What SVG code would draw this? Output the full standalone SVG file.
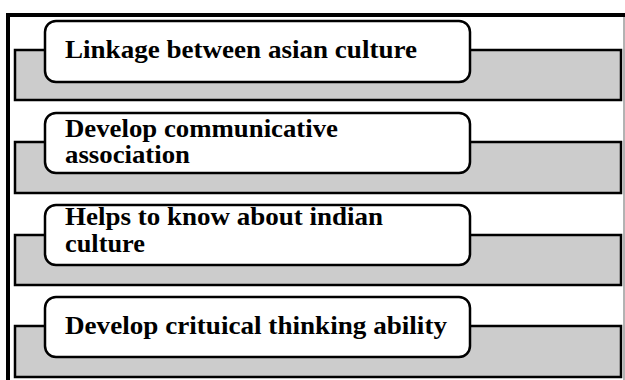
<svg xmlns="http://www.w3.org/2000/svg" width="625" height="380" viewBox="0 0 625 380">
<style>
.band{fill:#cccccc;stroke:#000;stroke-width:2.5}
.box{fill:#fff;stroke:#000;stroke-width:2.5}
.t{font-family:"Liberation Serif","Times New Roman",serif;font-weight:bold;font-size:25px;fill:#000}
</style>
<rect width="625" height="380" fill="#fff"/>
<g id="frame">
<line x1="8" y1="15" x2="625" y2="15" stroke="#000" stroke-width="4"/>
<line x1="8" y1="13" x2="8" y2="380" stroke="#000" stroke-width="4"/>
<line x1="624" y1="17" x2="624" y2="380" stroke="#666" stroke-width="1"/>
</g>
<g id="connectors">
<rect class="band" x="15" y="50" width="606" height="50"/>
<rect class="band" x="15" y="142" width="606" height="51"/>
<rect class="band" x="15" y="235" width="606" height="50"/>
<rect class="band" x="15" y="326" width="606" height="51"/>
</g>
<g id="node1">
<rect class="box" x="45" y="21" width="425" height="61" rx="11"/>
<text class="t" x="65" y="57.5" textLength="352" lengthAdjust="spacingAndGlyphs">Linkage between asian culture</text>
</g>
<g id="node2">
<rect class="box" x="45" y="113" width="425" height="60" rx="11"/>
<text class="t" x="65" y="137" textLength="273" lengthAdjust="spacingAndGlyphs">Develop communicative</text>
<text class="t" x="65" y="163" textLength="125" lengthAdjust="spacingAndGlyphs">association</text>
</g>
<g id="node3">
<rect class="box" x="45" y="205" width="425" height="60" rx="11"/>
<text class="t" x="65" y="225" textLength="318" lengthAdjust="spacingAndGlyphs">Helps to know about indian</text>
<text class="t" x="65" y="252" textLength="80" lengthAdjust="spacingAndGlyphs">culture</text>
</g>
<g id="node4">
<rect class="box" x="45" y="297" width="425" height="60" rx="11"/>
<text class="t" x="65" y="334" textLength="382" lengthAdjust="spacingAndGlyphs">Develop crituical thinking ability</text>
</g>
</svg>
